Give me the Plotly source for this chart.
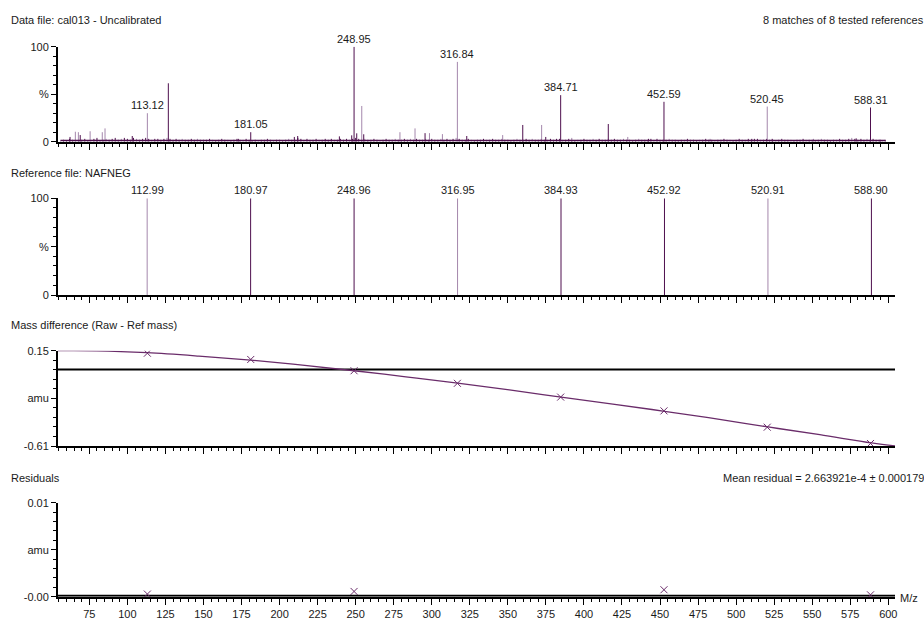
import plotly.graph_objects as go

W, H = 924, 619
ML, MR = 58, 29
PW = W - ML - MR

DARK = "#4e0f4e"
LIGHT = "#a487ac"
BLACK = "#000000"
TXT = "#1a1a1a"
FONT = "Liberation Sans, Arial, sans-serif"

# ---------------- data ----------------
# labelled peaks in the raw (uncalibrated) spectrum
raw_mz = [113.12, 181.05, 248.95, 316.84, 384.71, 452.59, 520.45, 588.31]
raw_int = [30, 10, 100, 84, 49, 42, 37, 36]
raw_tone = ["L", "D", "D", "L", "D", "D", "L", "D"]

# other visible peaks
other_mz = [126.9, 254.0, 62.3, 65.8, 67.8, 69.0, 75.5, 80.0, 83.5, 85.3, 103.2,
            172.9, 209.7, 211.9, 239.3, 247.4, 250.7, 255.3, 279.1, 289.0, 295.6,
            298.5, 307.0, 323.0, 346.6, 359.8, 372.2, 374.9, 392.0, 416.0, 428.8,
            442.4, 482.9, 510.3, 523.7, 550.8, 578.9, 594.8]
other_int = [61.5, 37.6, 5, 10.5, 10, 7, 11, 4, 10, 14, 6,
             3, 5, 6, 5.6, 6.7, 8.8, 7.8, 10, 14, 9,
             9, 8, 6, 7, 17.6, 17.6, 5, 4, 18.6, 5,
             3, 3, 3, 3, 3, 3.5, 2]
other_tone = ["D", "L", "D", "L", "L", "D", "L", "D", "L", "L", "D",
              "D", "D", "D", "D", "D", "D", "D", "L", "L", "D",
              "L", "L", "D", "L", "D", "L", "D", "L", "D", "L",
              "D", "L", "D", "D", "L", "D", "D"]

# baseline noise (m/z 56..598, every 2)
noise_start, noise_step = 56, 2
noise_int = [
    1, 2, 1, 3, 2, 1, 2, 2, 3, 1, 2, 3, 2, 1, 2, 3,
    2, 3, 4, 2, 3, 4, 3, 2, 4, 3, 2, 3, 4, 3, 2, 3,
    3, 2, 3, 4, 3, 2, 3, 2, 3, 2, 2, 3, 2, 3, 2, 2,
    2, 3, 2, 1, 2, 3, 2, 2, 1, 2, 3, 2, 2, 3, 2, 1,
    2, 1, 2, 2, 3, 2, 1, 2, 2, 1, 2, 3, 2, 2, 4, 3,
    2, 3, 2, 2, 3, 2, 2, 3, 2, 3, 2, 2, 3, 2, 3, 2,
    3, 4, 3, 2, 3, 2, 2, 3, 2, 1, 2, 3, 2, 2, 3, 2,
    2, 3, 2, 3, 2, 3, 2, 2, 3, 2, 3, 2, 2, 3, 2, 3,
    2, 3, 4, 3, 2, 2, 3, 2, 1, 2, 2, 3, 2, 2, 3, 2,
    2, 3, 2, 2, 1, 2, 3, 2, 2, 3, 2, 3, 2, 2, 3, 2,
    2, 3, 2, 3, 3, 2, 2, 3, 2, 1, 2, 2, 3, 2, 2, 3,
    2, 3, 2, 2, 3, 2, 3, 2, 2, 3, 2, 2, 1, 2, 3, 2,
    2, 2, 3, 2, 3, 2, 2, 2, 3, 2, 2, 1, 2, 2, 3, 2,
    2, 1, 2, 2, 3, 2, 2, 1, 2, 2, 3, 2, 2, 1, 2, 3,
    2, 2, 3, 2, 3, 3, 2, 2, 3, 2, 2, 1, 2, 3, 2, 2,
    2, 1, 2, 2, 3, 2, 2, 2, 1, 2, 3, 2, 2, 1, 2, 2,
    3, 2, 2, 3, 4, 3, 2, 3, 2, 3, 2, 3, 2, 2, 1, 2,
]

# reference file peaks
ref_mz = [112.99, 180.97, 248.96, 316.95, 384.93, 452.92, 520.91, 588.90]
ref_int = [100, 100, 100, 100, 100, 100, 100, 100]
ref_tone = ["L", "D", "D", "L", "D", "D", "L", "D"]

# mass difference (raw - ref)
diff_amu = [0.13, 0.08, -0.01, -0.11, -0.22, -0.33, -0.46, -0.59]
# calibration curve
fit_mz = [54, 80, 113, 147, 181, 215, 249, 283, 317, 351, 385, 419, 453, 487, 521, 555, 589, 605]
fit_amu = [0.150, 0.149, 0.134, 0.107, 0.075, 0.035, -0.010, -0.058, -0.108, -0.163,
           -0.220, -0.276, -0.333, -0.394, -0.458, -0.520, -0.585, -0.610]

# residuals
resid = [0.00018, -0.00014, 0.00046, -0.00020, -0.00030, 0.00064, -0.00020, 0.00010]

X_RANGE = [54.4, 604.4]
x_ticks = [75, 100, 125, 150, 175, 200, 225, 250, 275, 300, 325, 350, 375, 400,
           425, 450, 475, 500, 525, 550, 575, 600]

# ---------------- layout helpers ----------------
def ydom(top_px, bot_px):
    return [1 - bot_px / H, 1 - top_px / H]

def px_x(px):
    return (px - ML) / PW

def px_y(py):
    return 1 - py / H

panels = {
    1: ydom(46.7, 141.7),
    2: ydom(198.3, 295.0),
    3: ydom(350.7, 446.0),
    4: ydom(502.7, 596.7),
}

fig = go.Figure()

def sticks(mzs, ints, tones, tone, xa, ya, width=1):
    xs, ys = [], []
    for m, v, t in zip(mzs, ints, tones):
        if t == tone:
            xs += [m, m, None]
            ys += [0, v, None]
    col = DARK if tone == "D" else LIGHT
    fig.add_trace(go.Scatter(x=xs, y=ys, mode="lines", xaxis=xa, yaxis=ya,
                             line=dict(color=col, width=width), hoverinfo="skip",
                             showlegend=False))

noise_mz = [noise_start + noise_step * i for i in range(len(noise_int))]
noise_tone = ["D" if i % 5 else "L" for i in range(len(noise_int))]

for tone in ("L", "D"):
    sticks(noise_mz, noise_int, noise_tone, tone, "x", "y")
for tone in ("L", "D"):
    sticks(other_mz, other_int, other_tone, tone, "x", "y")
    sticks(raw_mz, raw_int, raw_tone, tone, "x", "y")
    sticks(ref_mz, ref_int, ref_tone, tone, "x2", "y2")

# baseline of the spectrum
fig.add_trace(go.Scatter(x=[noise_mz[0], noise_mz[-1]], y=[1.3, 1.3], mode="lines",
                         xaxis="x", yaxis="y", line=dict(color=DARK, width=1.5),
                         hoverinfo="skip", showlegend=False))

# mass difference panel
fig.add_trace(go.Scatter(x=X_RANGE, y=[0, 0], mode="lines", xaxis="x3", yaxis="y3",
                         line=dict(color=BLACK, width=2), hoverinfo="skip", showlegend=False))
fig.add_trace(go.Scatter(x=fit_mz, y=fit_amu, mode="lines", xaxis="x3", yaxis="y3",
                         line=dict(color="#6a2c6a", width=1.3, shape="spline"),
                         hoverinfo="skip", showlegend=False, cliponaxis=False))
fig.add_trace(go.Scatter(x=raw_mz, y=diff_amu, mode="markers", xaxis="x3", yaxis="y3",
                         marker=dict(symbol="x-thin", size=7, color="#6a2c6a",
                                     line=dict(color="#6a2c6a", width=1)),
                         hoverinfo="skip", showlegend=False))

# residual panel
fig.add_trace(go.Scatter(x=X_RANGE, y=[0, 0], mode="lines", xaxis="x4", yaxis="y4",
                         line=dict(color=BLACK, width=2), hoverinfo="skip", showlegend=False))
fig.add_trace(go.Scatter(x=raw_mz, y=resid, mode="markers", xaxis="x4", yaxis="y4",
                         marker=dict(symbol="x-thin", size=7, color="#6a2c6a",
                                     line=dict(color="#6a2c6a", width=1)),
                         hoverinfo="skip", showlegend=False, cliponaxis=False))

# ---------------- axes ----------------
tickfont = dict(family=FONT, size=11, color=TXT)

def xaxis(anchor, labels):
    return dict(
        domain=[0, 1], range=X_RANGE, anchor=anchor, showgrid=False, zeroline=False,
        showline=True, linecolor=BLACK, linewidth=2, ticks="outside", ticklen=6,
        tickcolor=BLACK, tickwidth=1, tickmode="array", tickvals=x_ticks,
        showticklabels=labels, tickfont=tickfont, fixedrange=True,
        minor=dict(ticks="outside", ticklen=3, tickcolor=BLACK, dtick=5, tick0=0, showgrid=False),
    )

def yaxis(anchor, dom, rng, vals, texts, mdt, m0):
    return dict(
        domain=dom, range=rng, anchor=anchor, showgrid=False, zeroline=False,
        showline=True, linecolor=BLACK, linewidth=2, ticks="outside", ticklen=5,
        tickcolor=BLACK, tickwidth=1, tickmode="array", tickvals=vals, ticktext=texts,
        tickfont=tickfont, fixedrange=True,
        minor=dict(ticks="outside", ticklen=3, tickcolor=BLACK, dtick=mdt, tick0=m0, showgrid=False),
    )

fig.update_layout(
    width=W, height=H,
    margin=dict(l=ML, r=MR, t=0, b=0, autoexpand=False),
    paper_bgcolor="white", plot_bgcolor="white",
    font=dict(family=FONT, size=11, color=TXT),
    showlegend=False,
    xaxis=xaxis("y", False),
    xaxis2=xaxis("y2", False),
    xaxis3=xaxis("y3", False),
    xaxis4=xaxis("y4", True),
    yaxis=yaxis("x", panels[1], [0, 100], [0, 50, 100], ["0", "%", "100"], 10, 0),
    yaxis2=yaxis("x2", panels[2], [0, 100], [0, 50, 100], ["0", "%", "100"], 10, 0),
    yaxis3=yaxis("x3", panels[3], [-0.61, 0.15], [-0.61, -0.23, 0.15],
                 ["-0.61", "amu", "0.15"], 0.076, -0.61),
    yaxis4=yaxis("x4", panels[4], [-0.0001, 0.0099], [-0.0001, 0.0049, 0.0099],
                 ["-0.00", "amu", "0.01"], 0.001, -0.0001),
)

# ---------------- annotations ----------------
anns = []
def text(x_px, y_px, s, anchor="left"):
    anns.append(dict(xref="paper", yref="paper", x=px_x(x_px), y=px_y(y_px), text=s,
                     showarrow=False, xanchor=anchor, yanchor="middle",
                     font=dict(family=FONT, size=11, color=TXT)))

text(9, 20, "Data file: cal013 - Uncalibrated")
text(926, 20, "8 matches of 8 tested references", "right")
text(9, 173, "Reference file: NAFNEG")
text(9, 325, "Mass difference (Raw - Ref mass)")
text(9, 478, "Residuals")
text(926, 478, "Mean residual = 2.663921e-4 \u00b1 0.000179", "right")
text(898, 598, "M/z")

for m, v in zip(raw_mz, raw_int):
    anns.append(dict(xref="x", yref="y", x=m, y=v, text=f"{m:.2f}", showarrow=False,
                     xanchor="center", yanchor="bottom", yshift=0,
                     font=dict(family=FONT, size=11, color=TXT)))
for m, v in zip(ref_mz, ref_int):
    anns.append(dict(xref="x2", yref="y2", x=m, y=v, text=f"{m:.2f}", showarrow=False,
                     xanchor="center", yanchor="bottom", yshift=0,
                     font=dict(family=FONT, size=11, color=TXT)))

fig.update_layout(annotations=anns)

fig.write_html("out.html")
